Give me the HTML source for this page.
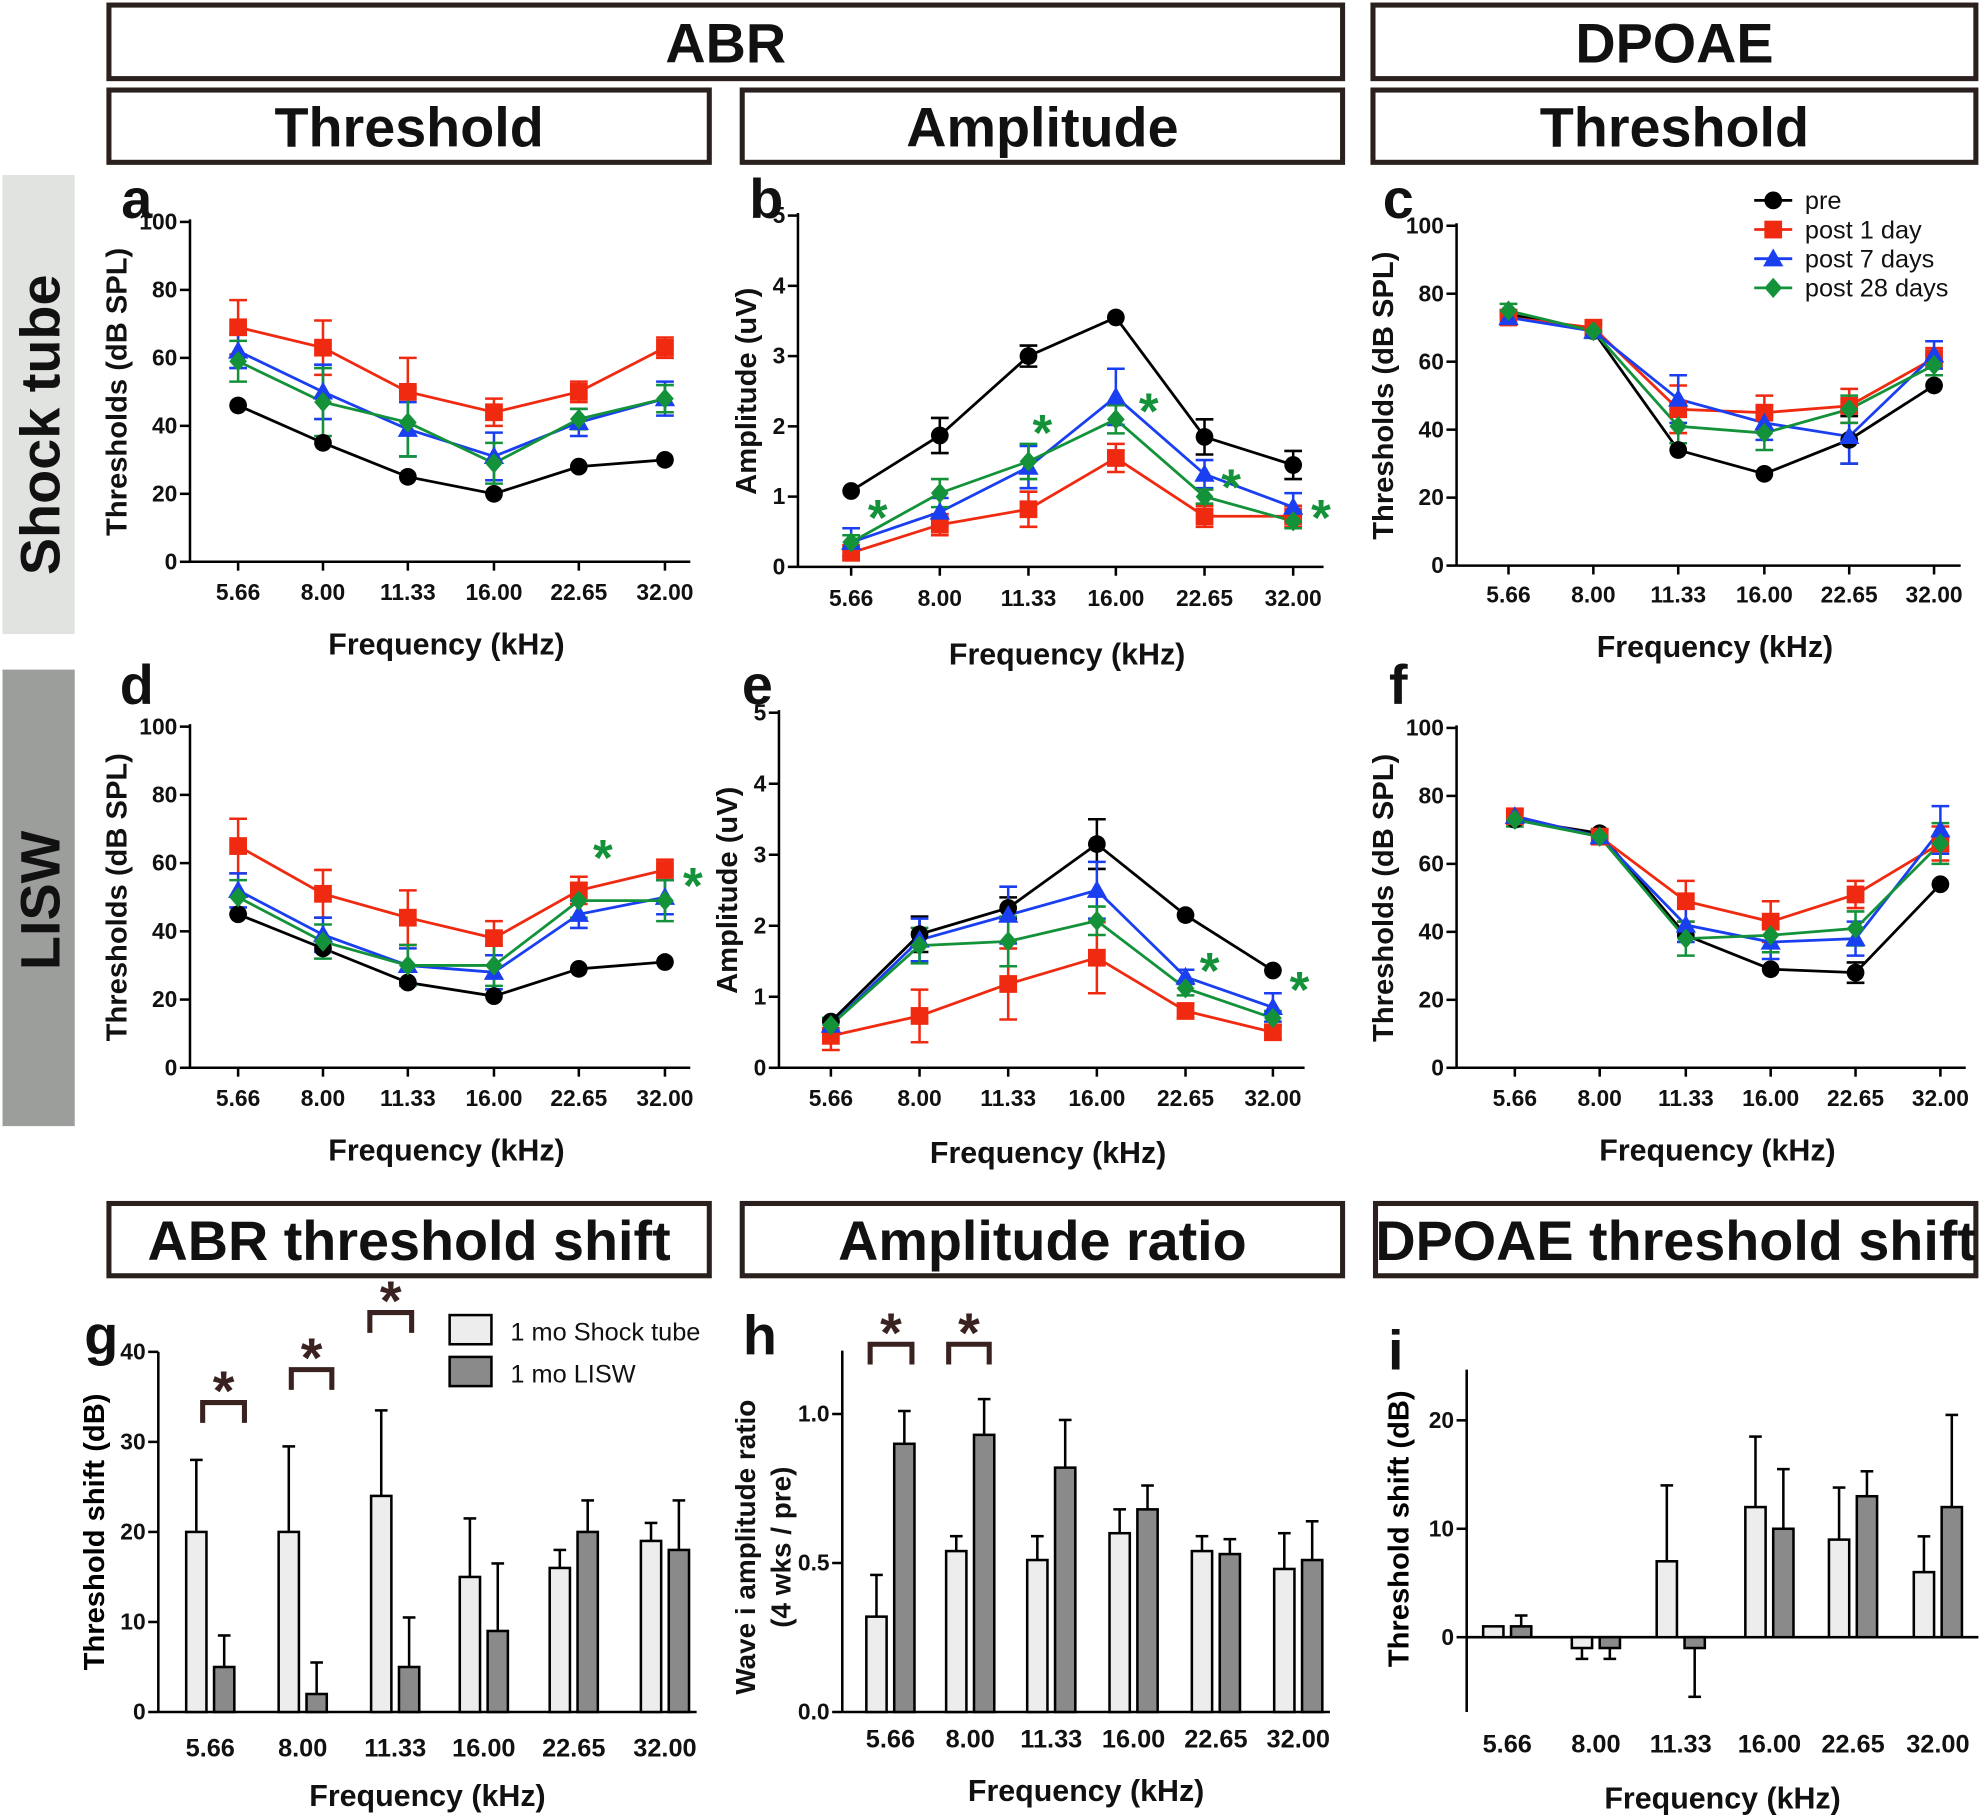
<!DOCTYPE html>
<html><head><meta charset="utf-8"><style>
html,body{margin:0;padding:0;background:#fff}
svg{display:block}
text{font-family:"Liberation Sans",Arial,sans-serif}
</style></head><body>
<svg id="s" width="1986" height="1816" viewBox="0 0 1568 1432" preserveAspectRatio="none" xmlns="http://www.w3.org/2000/svg">
<g id="g"></g>
</svg>
<script>
const g=document.getElementById('g');let h='';
function T(x,y,s,sz,opt){opt=opt||{};h+=`<text x="${x}" y="${y}" font-size="${sz}" font-weight="${opt.w||'bold'}" text-anchor="${opt.a||'middle'}" fill="${opt.c||'#111'}" ${opt.t?`transform="${opt.t}"`:''}>${s}</text>`;}
function L(x1,y1,x2,y2,c,w){h+=`<line x1="${x1}" y1="${y1}" x2="${x2}" y2="${y2}" stroke="${c||'#000'}" stroke-width="${w||2}"/>`;}
function R(x,y,w,hh,f,s,sw){h+=`<rect x="${x}" y="${y}" width="${w}" height="${hh}" fill="${f}" stroke="${s||'none'}" stroke-width="${sw||0}"/>`;}
function HB(x1,x2,y1,y2,s){R(x1,y1,x2-x1,y2-y1,'#fff','#2a211e',4);T((x1+x2)/2,y1+(y2-y1)*0.78,s,44);}
HB(86,1060,4,62,'ABR');HB(1084,1560,4,62,'DPOAE');
HB(86,560,71,128,'Threshold');HB(586,1060,71,128,'Amplitude');HB(1084,1560,71,128,'Threshold');
HB(86,560,949,1006,'ABR threshold shift');HB(586,1060,949,1006,'Amplitude ratio');HB(1086,1560,949,1006,'DPOAE threshold shift');
R(2,138,57,362,'#e1e3e1');R(2,528,57,360,'#9c9e9c');
T(47,335,'Shock tube',44,{t:'rotate(-90 47 335)',c:'#111'});
T(47,710,'LISW',44,{t:'rotate(-90 47 710)',c:'#111'});
const labs=['5.66','8.00','11.33','16.00','22.65','32.00'];
const cols={pre:'#000',p1:'#f02a10',p7:'#1a3ff0',p28:'#13923a'};
function mk(t,x,y,c){
 if(t=='pre')h+=`<circle cx="${x}" cy="${y}" r="7" fill="${c}"/>`;
 else if(t=='p1')R(x-7,y-7,14,14,c);
 else if(t=='p7')h+=`<polygon points="${x},${y-8} ${x+8},${y+6} ${x-8},${y+6}" fill="${c}"/>`;
 else h+=`<polygon points="${x},${y-8} ${x+7},${y} ${x},${y+8} ${x-7},${y}" fill="${c}"/>`;
}
function lineP(o){
 const {ax,ytop,ybot,vmax,step,xs,xend,data,err,letter,ylabel,tickfmt,stars,xlY,ttlY}=o;
 const Y=v=>ybot-(v/vmax)*(ybot-ytop);
 L(ax,ytop-2,ax,ybot);L(ax,ybot,xend,ybot);
 for(let v=0;v<=vmax+1e-9;v+=step){L(ax-8,Y(v),ax,Y(v));T(ax-10,Y(v)+6,tickfmt(v),18,{a:'end'});}
 xs.forEach((x,i)=>{L(x,ybot,x,ybot+7);T(x,xlY,labs[i],18);});
 T((ax+xend)/2+5,ttlY,'Frequency (kHz)',24);
 const yl=ax-(o.ylo||50);
 T(yl,(ytop+ybot)/2,ylabel,23,{t:`rotate(-90 ${yl} ${(ytop+ybot)/2})`});
 T(letter[1],letter[2],letter[0],44);
 ['pre','p1','p7','p28'].forEach(k=>{const d=data[k],c=cols[k],e=(err&&err[k])||[];
  let p=d.map((v,i)=>`${xs[i]},${Y(v)}`).join(' ');h+=`<polyline points="${p}" fill="none" stroke="${c}" stroke-width="2.2"/>`;
  d.forEach((v,i)=>{const ev=e[i]||0;if(ev){L(xs[i],Y(v-ev),xs[i],Y(v+ev),c,2);L(xs[i]-7,Y(v+ev),xs[i]+7,Y(v+ev),c,2);L(xs[i]-7,Y(v-ev),xs[i]+7,Y(v-ev),c,2);}});
 });
 ['pre','p1','p7','p28'].forEach(k=>data[k].forEach((v,i)=>mk(k,xs[i],Y(v),cols[k])));
 (stars||[]).forEach(s=>T(s[0],s[1]+22,'*',40,{c:'#13923a'}));
}
const d0=v=>String(Math.round(v));
lineP({ax:150,ytop:175,ybot:443,vmax:100,step:20,xs:[188,255,322,390,457,525],xend:545,xlY:473,ttlY:516,letter:['a',108,172],ylabel:'Thresholds (dB SPL)',tickfmt:d0,
 data:{pre:[46,35,25,20,28,30],p1:[69,63,50,44,50,63],p7:[62,50,39,31,41,48],p28:[59,47,41,29,42,48]},
 err:{p1:[8,8,10,4,3,3],p7:[5,8,8,7,4,5],p28:[6,10,10,6,3,4]}});
lineP({ax:630,ytop:170,ybot:447,vmax:5,step:1,xs:[672,742,812,881,951,1021],xend:1045,xlY:478,ttlY:524,letter:['b',605,172],ylabel:'Amplitude (uV)',ylo:33,tickfmt:d0,
 data:{pre:[1.08,1.87,3.0,3.55,1.85,1.45],p1:[0.2,0.6,0.82,1.55,0.72,0.72],p7:[0.35,0.78,1.42,2.42,1.32,0.85],p28:[0.35,1.05,1.5,2.1,1.0,0.65]},
 err:{pre:[0,0.25,0.15,0,0.25,0.2],p1:[0.1,0.15,0.25,0.2,0.15,0.15],p7:[0.2,0.2,0.3,0.4,0.2,0.2],p28:[0.1,0.2,0.25,0.2,0.1,0.1]},
 stars:[[693,400],[823,333],[907,316],[972,376],[1043,400]]});
lineP({ax:1150,ytop:178,ybot:446,vmax:100,step:20,xs:[1191,1258,1325,1393,1460,1527],xend:1548,xlY:475,ttlY:518,letter:['c',1104,172],ylabel:'Thresholds (dB SPL)',tickfmt:d0,
 data:{pre:[74,69,34,27,37,53],p1:[73,70,46,45,47,61],p7:[73,69,49,42,38,62],p28:[75,69,41,39,46,59]},
 err:{pre:[0,0,0,0,7,0],p1:[2,2,7,5,5,3],p7:[2,2,7,5,8,4],p28:[2,2,5,5,4,3]}});
lineP({ax:150,ytop:573,ybot:842,vmax:100,step:20,xs:[188,255,322,390,457,525],xend:545,xlY:872,ttlY:915,letter:['d',108,555],ylabel:'Thresholds (dB SPL)',tickfmt:d0,
 data:{pre:[45,35,25,21,29,31],p1:[65,51,44,38,52,58],p7:[52,39,30,28,45,50],p28:[50,37,30,30,49,49]},
 err:{p1:[8,7,8,5,4,3],p7:[5,5,5,5,4,5],p28:[5,5,6,6,5,6]},stars:[[476,668],[547,690]]});
lineP({ax:615,ytop:562,ybot:842,vmax:5,step:1,xs:[656,726,796,866,936,1005],xend:1030,xlY:872,ttlY:917,letter:['e',598,555],ylabel:'Amplitude (uV)',ylo:33,tickfmt:d0,
 data:{pre:[0.65,1.88,2.25,3.15,2.15,1.37],p1:[0.45,0.73,1.18,1.55,0.8,0.5],p7:[0.6,1.8,2.15,2.5,1.28,0.85],p28:[0.6,1.72,1.78,2.07,1.12,0.7]},
 err:{pre:[0,0.25,0.15,0.35,0,0],p1:[0.2,0.37,0.5,0.5,0.1,0.1],p7:[0.1,0.3,0.4,0.4,0.1,0.2],p28:[0.1,0.25,0.35,0.2,0.1,0.1]},stars:[[955,757],[1026,772]]});
lineP({ax:1150,ytop:574,ybot:842,vmax:100,step:20,xs:[1196,1263,1331,1398,1465,1532],xend:1552,xlY:872,ttlY:915,letter:['f',1104,555],ylabel:'Thresholds (dB SPL)',tickfmt:d0,
 data:{pre:[73,69,39,29,28,54],p1:[74,68,49,43,51,66],p7:[74,68,42,37,38,70],p28:[73,68,38,39,41,66]},
 err:{pre:[0,0,0,0,3,0],p1:[2,2,6,6,4,5],p7:[2,2,5,5,5,7],p28:[2,2,5,5,5,6]}});
[['pre','pre'],['p1','post 1 day'],['p7','post 7 days'],['p28','post 28 days']].forEach((l,i)=>{const y=158+i*23;L(1385,y,1415,y,cols[l[0]],2.2);mk(l[0],1400,y,cols[l[0]]);T(1425,y+7,l[1],20,{a:'start',w:'normal'});});
function barP(o){
 const {ax,ytop,ybot,vmin,vmax,step,xs,xend,light,dark,el,ed,letter,ylabel,tickfmt,xlY,ttlY}=o;
 const Y=v=>ybot-((v-vmin)/(vmax-vmin))*(ybot-ytop);
 L(ax,o.axTop,ax,ybot);L(ax,Y(0),xend,Y(0));
 for(let v=vmin;v<=vmax+1e-9;v+=step){L(ax-8,Y(v),ax,Y(v));T(ax-10,Y(v)+6,tickfmt(v),18,{a:'end'});}
 xs.forEach((x,i)=>{T(x,xlY,labs[i],20);
  [[light,el,'#ededed',-11],[dark,ed,'#8a8a8a',11]].forEach(([d,e,f,off])=>{const v=d[i],cx=x+off,y0=Y(0),y1=Y(v);
   R(cx-8,Math.min(y0,y1),16,Math.abs(y1-y0)||1,f,'#000',2);
   if(e[i]){const ye=Y(v+(v>=0?e[i]:-e[i]));L(cx,y1,cx,ye);L(cx-5,ye,cx+5,ye);} });
 });
 T((ax+xend)/2,ttlY,'Frequency (kHz)',24);
 const mx=o.ylx||ax-60;
 if(ylabel)h+=`<text x="${mx}" y="${(ytop+ybot)/2}" font-size="23" font-weight="bold" text-anchor="middle" transform="rotate(-90 ${mx} ${(ytop+ybot)/2})">${ylabel}</text>`;
 T(letter[1],letter[2],letter[0],44);
}
barP({ax:125,axTop:1066,ytop:1066,ybot:1350,vmin:0,vmax:40,step:10,xs:[166,239,312,382,453,525],xend:550,light:[20,20,24,15,16,19],dark:[5,2,5,9,20,18],el:[8,9.5,9.5,6.5,2,2],ed:[3.5,3.5,5.5,7.5,3.5,5.5],letter:['g',80,1068],ylabel:'Threshold shift (dB)',tickfmt:d0,xlY:1385,ttlY:1424,ylx:82});
barP({ax:665,axTop:1065,ytop:1115,ybot:1350,vmin:0,vmax:1,step:0.5,xs:[703,766,830,895,960,1025],xend:1050,light:[0.32,0.54,0.51,0.6,0.54,0.48],dark:[0.9,0.93,0.82,0.68,0.53,0.51],el:[0.14,0.05,0.08,0.08,0.05,0.12],ed:[0.11,0.12,0.16,0.08,0.05,0.13],letter:['h',600,1068],ylabel:'',tickfmt:v=>v.toFixed(1),xlY:1378,ttlY:1420});
T(596,1220,'Wave i amplitude ratio',22,{t:'rotate(-90 596 1220)'});
T(624,1220,'(4 wks / pre)',22,{t:'rotate(-90 624 1220)'});
barP({ax:1158,axTop:1080,ytop:1120,ybot:1291,vmin:0,vmax:20,step:10,xs:[1190,1260,1327,1397,1463,1530],xend:1562,light:[1,-1,7,12,9,6],dark:[1,-1,-1,10,13,12],el:[0,1,7,6.5,4.8,3.3],ed:[1,1,4.5,5.5,2.3,8.5],letter:['i',1102,1080],ylabel:'Threshold shift (dB)',tickfmt:d0,xlY:1382,ttlY:1426,ylx:1112});
L(1158,1291,1158,1350);
function BR(x1,x2,y){h+=`<polyline points="${x1},${y+16} ${x1},${y} ${x2},${y} ${x2},${y+16}" fill="none" stroke="#3a2220" stroke-width="4"/>`;T((x1+x2)/2,y+6,'*',44,{c:'#3a2220'});}
BR(160,193,1106);BR(230,262,1080);BR(292,325,1035);BR(687,720,1060);BR(749,781,1060);
R(355,1037,33,23,'#ededed','#000',2);R(355,1070,33,23,'#8a8a8a','#000',2);
T(403,1057,'1 mo Shock tube',20,{a:'start',w:'normal'});T(403,1090,'1 mo LISW',20,{a:'start',w:'normal'});
g.innerHTML=h;
</script>
</body></html>
